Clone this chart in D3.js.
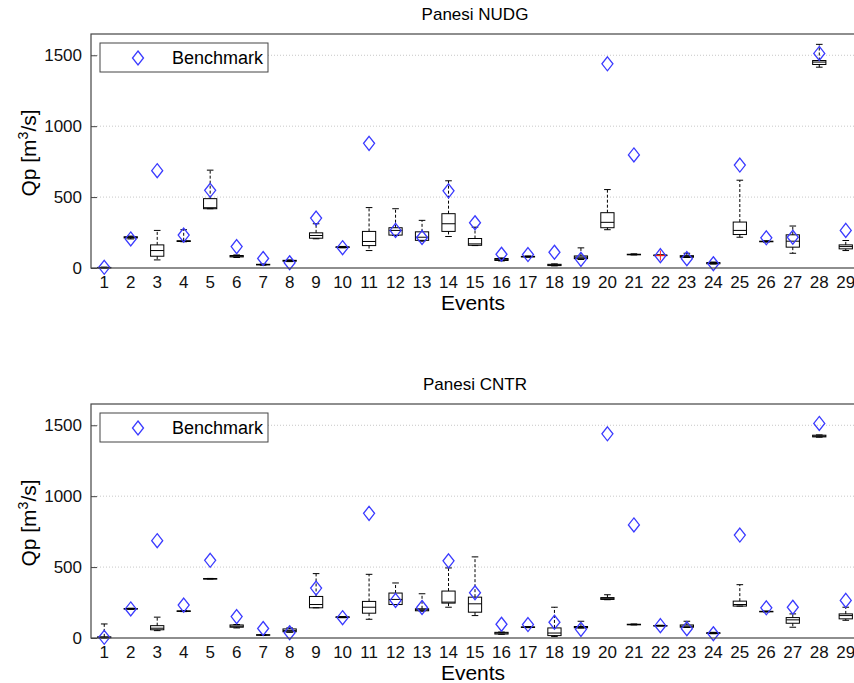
<!doctype html>
<html>
<head>
<meta charset="utf-8">
<script src="https://cdnjs.cloudflare.com/ajax/libs/d3/7.8.5/d3.min.js"></script>
<style>
  body { margin: 0; background: #fff; }
  svg { display: block; font-family: "Liberation Sans", Arial, sans-serif; }
  .grid line { stroke: #c8c8c8; stroke-dasharray: 1,2; }
  .tick text { fill: #111; }
</style>
</head>
<body>
<svg id="chart" width="854" height="683"></svg>
<script>
// ---- data ----
const events = d3.range(1, 30).map(String);
const benchmark = [5, 205, 686, 232, 548, 151, 67, 37, 352, 143, 879, 265, 215, 544, 319, 97, 95, 111, 61, 1440, 797, 87, 66, 30, 726, 213, 217, 1513, 265];
const yTicks = [0, 500, 1000, 1500];

// Panesi NUDG box stats
const nudgLo  = [0, 205, 57, 185, 418, 74, 20, 45, 206, 142, 123, 229, 189, 222, 158, 50, 76, 15, 60, 270, 92, 88, 74, 28, 217, 183, 104, 1416, 123];
const nudgQ1  = [2, 212, 83, 187, 418, 78, 22, 48, 210, 145, 158, 232, 195, 258, 160, 53, 78, 17, 66, 284, 93, 89, 76, 30, 236, 185, 147, 1435, 135];
const nudgMed = [3, 217, 123, 189, 425, 83, 24, 52, 229, 147, 187, 265, 217, 312, 170, 61, 80, 21, 76, 322, 95, 90, 80, 35, 265, 187, 189, 1452, 151];
const nudgQ3  = [4, 220, 163, 192, 489, 88, 26, 54, 248, 149, 258, 284, 255, 383, 208, 67, 82, 26, 85, 390, 97, 91, 87, 38, 324, 189, 234, 1463, 163];
const nudgHi  = [6, 225, 265, 270, 690, 92, 28, 57, 312, 152, 426, 418, 336, 615, 288, 71, 85, 29, 142, 553, 100, 92, 104, 42, 619, 192, 296, 1577, 194];
const nudgOutEvent = ["22"];
const nudgOutValue = [88];

// Panesi CNTR box stats
const cntrLo  = [0, 202, 52, 186, 416, 71, 18, 40, 213, 143, 132, 236, 189, 217, 158, 26, 73, 10, 70, 270, 92, 85, 74, 30, 225, 184, 76, 1416, 125];
const cntrQ1  = [2, 204, 58, 188, 417, 76, 20, 44, 213, 145, 175, 236, 192, 246, 182, 28, 75, 17, 72, 272, 93, 86, 76, 32, 225, 186, 104, 1418, 135];
const cntrMed = [5, 206, 69, 189, 418, 83, 21, 52, 236, 147, 217, 272, 199, 253, 241, 35, 76, 35, 76, 277, 95, 87, 83, 35, 236, 187, 128, 1423, 158];
const cntrQ3  = [8, 208, 87, 191, 419, 92, 23, 64, 293, 149, 258, 317, 206, 331, 288, 40, 78, 71, 81, 285, 97, 88, 92, 37, 260, 188, 144, 1430, 170];
const cntrHi  = [99, 210, 147, 193, 420, 95, 25, 71, 454, 151, 449, 388, 312, 494, 572, 42, 80, 217, 118, 305, 99, 90, 118, 40, 376, 190, 170, 1432, 217];

const panels = [
  {title: "Panesi NUDG", top: 34, lo: nudgLo, q1: nudgQ1, med: nudgMed, q3: nudgQ3, hi: nudgHi, outE: nudgOutEvent, outV: nudgOutValue},
  {title: "Panesi CNTR", top: 404, lo: cntrLo, q1: cntrQ1, med: cntrMed, q3: cntrQ3, hi: cntrHi, outE: [], outV: []}
];

const svg = d3.select("#chart");
const left = 91, right = 859, ph = 234;

const x = d3.scaleBand().domain(events).range([left, right]).padding(0);
const bw = x.bandwidth() * 0.5;
const cw = x.bandwidth() * 0.25;
const cx = e => x(e) + x.bandwidth() / 2;

function drawPanel(p) {
  const y = d3.scaleLinear().domain([0, 1650]).range([p.top + ph, p.top]);
  const g = svg.append("g");

  // grid
  g.append("g").attr("class", "grid")
    .selectAll("line").data(yTicks.slice(1)).enter().append("line")
    .attr("x1", left).attr("x2", right)
    .attr("y1", d => y(d)).attr("y2", d => y(d));

  // boxes
  const idx = d3.range(events.length);
  const bx = g.append("g").selectAll("g").data(idx).enter().append("g");
  bx.append("line") // upper whisker
    .attr("x1", i => cx(events[i])).attr("x2", i => cx(events[i]))
    .attr("y1", i => y(p.q3[i])).attr("y2", i => y(p.hi[i]))
    .attr("stroke", "#000").attr("stroke-dasharray", "3,2");
  bx.append("line") // lower whisker
    .attr("x1", i => cx(events[i])).attr("x2", i => cx(events[i]))
    .attr("y1", i => y(p.q1[i])).attr("y2", i => y(p.lo[i]))
    .attr("stroke", "#000").attr("stroke-dasharray", "3,2");
  ["hi", "lo"].forEach(k => {
    bx.append("line")
      .attr("x1", i => cx(events[i]) - cw / 2)
      .attr("x2", i => cx(events[i]) + cw / 2)
      .attr("y1", i => y(p[k][i])).attr("y2", i => y(p[k][i]))
      .attr("stroke", "#000");
  });
  bx.append("rect")
    .attr("x", i => cx(events[i]) - bw / 2)
    .attr("width", bw)
    .attr("y", i => y(p.q3[i]))
    .attr("height", i => Math.max(0.5, y(p.q1[i]) - y(p.q3[i])))
    .attr("fill", "none").attr("stroke", "#000");
  bx.append("line")
    .attr("x1", i => cx(events[i]) - bw / 2)
    .attr("x2", i => cx(events[i]) + bw / 2)
    .attr("y1", i => y(p.med[i])).attr("y2", i => y(p.med[i]))
    .attr("stroke", "#000");

  // outliers (red +)
  g.append("g").selectAll("path").data(p.outE.map((e, i) => [e, p.outV[i]])).enter()
    .append("path")
    .attr("d", d => {
      const px = cx(d[0]), py = y(d[1]);
      return `M${px - 5},${py}H${px + 5}M${px},${py - 5}V${py + 5}`;
    })
    .attr("stroke", "#ff2020").attr("fill", "none");

  // benchmark diamonds
  const diamond = (px, py) => `M${px},${py - 7}L${px + 5.5},${py}L${px},${py + 7}L${px - 5.5},${py}Z`;
  g.append("g").selectAll("path").data(benchmark).enter().append("path")
    .attr("d", (d, i) => diamond(cx(events[i]), y(d)))
    .attr("fill", "none").attr("stroke", "#3a3aff").attr("stroke-width", 1.3);

  // axes
  const ya = g.append("g").attr("transform", `translate(${left},0)`)
    .call(d3.axisLeft(y).tickValues(yTicks).tickFormat(d3.format("d"))
      .tickSizeInner(-6).tickSizeOuter(0).tickPadding(9));
  ya.select(".domain").remove();
  ya.selectAll(".tick line").attr("stroke", "#444");
  ya.selectAll("text").attr("font-size", 17).attr("font-family", "Liberation Sans, Arial");

  const xa = g.append("g").attr("transform", `translate(0,${p.top + ph})`)
    .call(d3.axisBottom(x).tickSize(0).tickPadding(8));
  xa.select(".domain").remove();
  xa.selectAll("text").attr("font-size", 17).attr("font-family", "Liberation Sans, Arial");

  // frame
  g.append("rect").attr("x", left).attr("y", p.top)
    .attr("width", right - left).attr("height", ph)
    .attr("fill", "none").attr("stroke", "#444").attr("stroke-width", 1.2);

  // title & labels
  g.append("text").attr("x", (left + right) / 2).attr("y", p.top - 14)
    .attr("text-anchor", "middle").attr("font-size", 17).text(p.title);
  g.append("text").attr("x", (left + right) / 2 - 2).attr("y", p.top + ph + 42)
    .attr("text-anchor", "middle").attr("font-size", 21).text("Events");
  const yl = g.append("text")
    .attr("transform", `translate(36,${p.top + ph / 2 + 2}) rotate(-90)`)
    .attr("text-anchor", "middle").attr("font-size", 21);
  yl.append("tspan").text("Qp [m");
  yl.append("tspan").attr("dy", -8).attr("font-size", 14).text("3");
  yl.append("tspan").attr("dy", 8).text("/s]");

  // legend
  const lg = g.append("g").attr("transform", `translate(100,${p.top + 9})`);
  lg.append("rect").attr("width", 168).attr("height", 29)
    .attr("fill", "#fff").attr("stroke", "#444");
  lg.append("path").attr("d", diamond(38, 15))
    .attr("fill", "none").attr("stroke", "#3a3aff").attr("stroke-width", 1.3);
  lg.append("text").attr("x", 72).attr("y", 21).attr("font-size", 18).text("Benchmark");
}

panels.forEach(drawPanel);
</script>
</body>
</html>
